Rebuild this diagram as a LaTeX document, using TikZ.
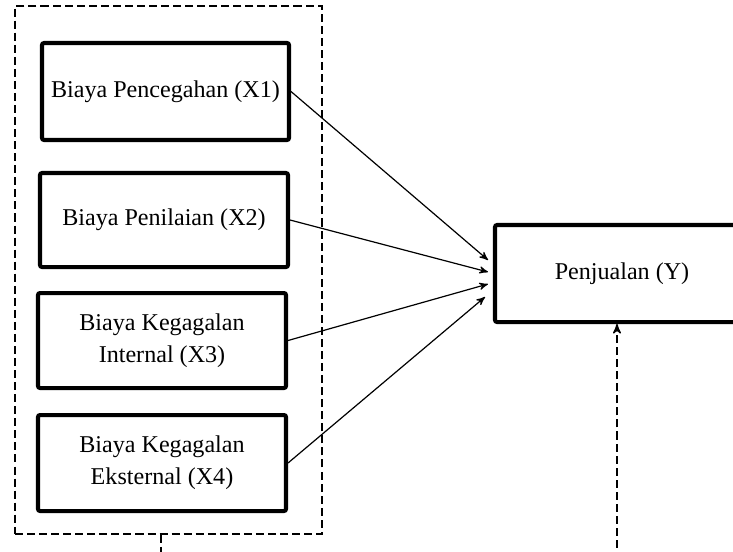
\documentclass[tikz,border=0pt]{standalone}
\usepackage{fontspec}
\setmainfont{Liberation Serif}
\usetikzlibrary{positioning}
\usetikzlibrary{arrows}
\tikzset{x=0.0175cm, y=-0.0175cm, % one unit is one pixel of the reference
every node/.style=
    { % Sets the text of every box
        font=\fontsize{12}{16}\selectfont,
        align=center
    },
    var/.style={ % Sets the properties for each variable box
        draw,
        line width=2pt,
        rounded corners=1pt,
        inner sep=0pt
    },
    grpbox/.style={ % Dashed frame round X1 to X4
        draw,
        line width=0.75pt,
        dash pattern=on 4pt off 2pt
    },
    link/.style={ % Makes edges directed
        draw,
        ->,>=stealth',
        line width=0.6pt
    },
    dlink/.style={
        draw,
        line width=0.75pt,
        dash pattern=on 4pt off 2pt
    }
}
\begin{document}
\begin{tikzpicture}
\useasboundingbox (0,0) rectangle (733,551);
\node [grpbox,minimum width=307*0.0175cm,minimum height=528*0.0175cm] (grp) at (168.5,270) {};
\node [var,minimum width=247*0.0175cm,minimum height=97*0.0175cm] (x1) at (165.5,91.5) {Biaya Pencegahan (X1)};
\node [var,minimum width=248*0.0175cm,minimum height=94*0.0175cm] (x2) at (164,220) {Biaya Penilaian (X2)};
\node [var,minimum width=248*0.0175cm,minimum height=95*0.0175cm] (x3) at (162,340.5) {Biaya Kegagalan\\Internal (X3)};
\node [var,minimum width=248*0.0175cm,minimum height=96*0.0175cm] (x4) at (162,463) {Biaya Kegagalan\\Eksternal (X4)};
\node [var,minimum width=254*0.0175cm,minimum height=97*0.0175cm] (y) at (622,273.5) {Penjualan (Y)};

\coordinate (low) at (161,560);
\coordinate (ctrl) at (617,560);

\draw [link] (x1.east) -- ([shift={(-5,-13.5)}]y.west);
\draw [link] (x2.east) -- ([shift={(-5,-1.5)}]y.west);
\draw [link] (x3.east) -- ([shift={(-5,10.5)}]y.west);
\draw [link] (x4.east) -- ([shift={(-8,23.5)}]y.west);

\draw [dlink] (grp.south -| low) -- (low);
\draw [dlink,->,>=stealth'] (ctrl) -- (y.south -| ctrl);
\end{tikzpicture}
\end{document}
